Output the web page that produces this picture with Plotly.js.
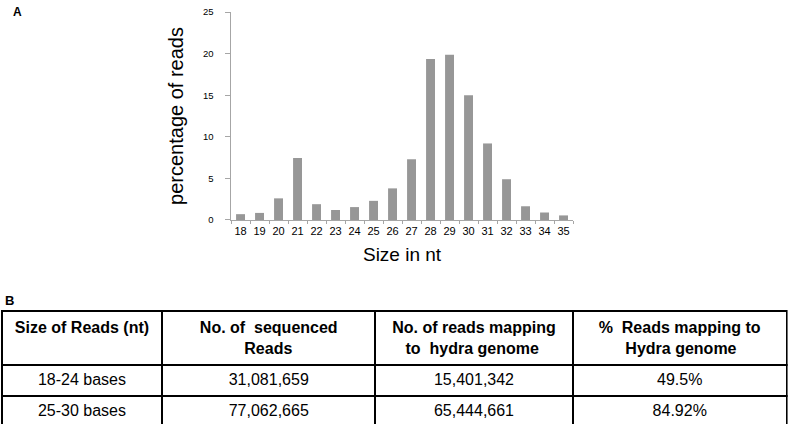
<!DOCTYPE html>
<html>
<head>
<meta charset="utf-8">
<script src="https://cdn.plot.ly/plotly-3.0.1.min.js"></script>
<style>html,body{margin:0;padding:0;background:#fff;}#chart{width:788px;height:426px;}</style>
</head>
<body>
<div id="chart"></div>
<script>
// Panel A data
const sizes = ["18","19","20","21","22","23","24","25","26","27","28","29","30","31","32","33","34","35"];
const percentReads = [0.7,0.85,2.6,7.45,1.9,1.2,1.55,2.3,3.8,7.3,19.35,19.85,15.0,9.2,4.9,1.65,0.9,0.55];
const yTicks = [0,5,10,15,20,25];

// Panel B table data
const tableHeaders = [["Size of Reads (nt)"],["No. of  sequenced","Reads"],["No. of reads mapping","to  hydra genome"],["%  Reads mapping to","Hydra genome"]];
const readSizes = ["18-24 bases","25-30 bases"];
const sequencedReads = ["31,081,659","77,062,665"];
const mappedReads = ["15,401,342","65,444,661"];
const percentMapped = ["49.5%","84.92%"];

const sans = "Liberation Sans, Arial, Helvetica, sans-serif";

// Plotly tables left-align the lines of a multi-line cell; pad shorter lines so each line is centred.
const ctx = document.createElement("canvas").getContext("2d");
ctx.font = "bold 16px 'Liberation Sans'";
const spW = ctx.measureText("\u00a0").width;
function centredHeader(lines) {
  const widths = lines.map(l => ctx.measureText(l.replace(/ /g, "\u00a0")).width);
  const maxW = Math.max(...widths);
  return "<b>" + lines.map((l, i) => "\u00a0".repeat(Math.round((maxW - widths[i]) / 2 / spW)) + l.replace(/ /g, "\u00a0")).join("<br>") + "</b>";
}

const bars = {
  type: "bar",
  x: sizes,
  y: percentReads,
  marker: {color: "#979797", line: {width: 0}},
  width: 0.47,
  xaxis: "x", yaxis: "y",
  hoverinfo: "x+y"
};

const table = {
  type: "table",
  domain: {x: [0.002, 0.999], y: [0.004, 0.27]},
  columnwidth: [161, 213, 198, 214],
  header: {
    values: tableHeaders.map(centredHeader),
    align: "center",
    height: 52,
    line: {color: "#000", width: 2},
    fill: {color: "#fff"},
    font: {family: sans, size: 16, color: "#000"}
  },
  cells: {
    values: [readSizes, sequencedReads, mappedReads, percentMapped],
    align: "center",
    height: 31,
    line: {color: "#000", width: 2},
    fill: {color: "#fff"},
    font: {family: sans, size: 16, color: "#000"}
  }
};

const layout = {
  width: 788, height: 426,
  margin: {l: 0, r: 0, t: 0, b: 0},
  paper_bgcolor: "#fff", plot_bgcolor: "#fff",
  showlegend: false,
  font: {family: sans, color: "#000"},
  xaxis: {
    type: "category",
    domain: [0.2932, 0.7272],
    anchor: "y",
    range: [-0.5, 17.5],
    showline: true, linecolor: "#a6a6a6", linewidth: 1.5,
    ticks: "outside", tickson: "boundaries", ticklen: 3, tickcolor: "#a6a6a6", tickwidth: 1,
    tickangle: 0,
    showgrid: false, zeroline: false,
    tickfont: {family: sans, size: 11, color: "#000"},
    title: {text: "Size in nt", font: {family: sans, size: 19, color: "#000"}, standoff: 12},
    fixedrange: true
  },
  yaxis: {
    domain: [0.4836, 0.9718],
    anchor: "x",
    range: [0, 25],
    tickvals: yTicks,
    showline: true, linecolor: "#a6a6a6", linewidth: 1.5,
    ticks: "outside", ticklen: 5, tickcolor: "#a6a6a6", tickwidth: 1,
    ticklabelstandoff: 9,
    showgrid: false, zeroline: false,
    tickfont: {family: sans, size: 9.5, color: "#000"},
    title: {text: "percentage of reads", font: {family: sans, size: 20, color: "#000"}, standoff: 14},
    fixedrange: true
  },
  annotations: [
    {text: "<b>A</b>", xref: "paper", yref: "paper", x: 11/788, y: 1 - 12/426, xanchor: "left", yanchor: "middle", showarrow: false, font: {family: sans, size: 12, color: "#000"}},
    {text: "<b>B</b>", xref: "paper", yref: "paper", x: 3/788, y: 1 - 300/426, xanchor: "left", yanchor: "middle", showarrow: false, font: {family: sans, size: 13, color: "#000"}}
  ]
};

Plotly.newPlot("chart", [bars, table], layout, {displayModeBar: false, staticPlot: true});
</script>
</body>
</html>
